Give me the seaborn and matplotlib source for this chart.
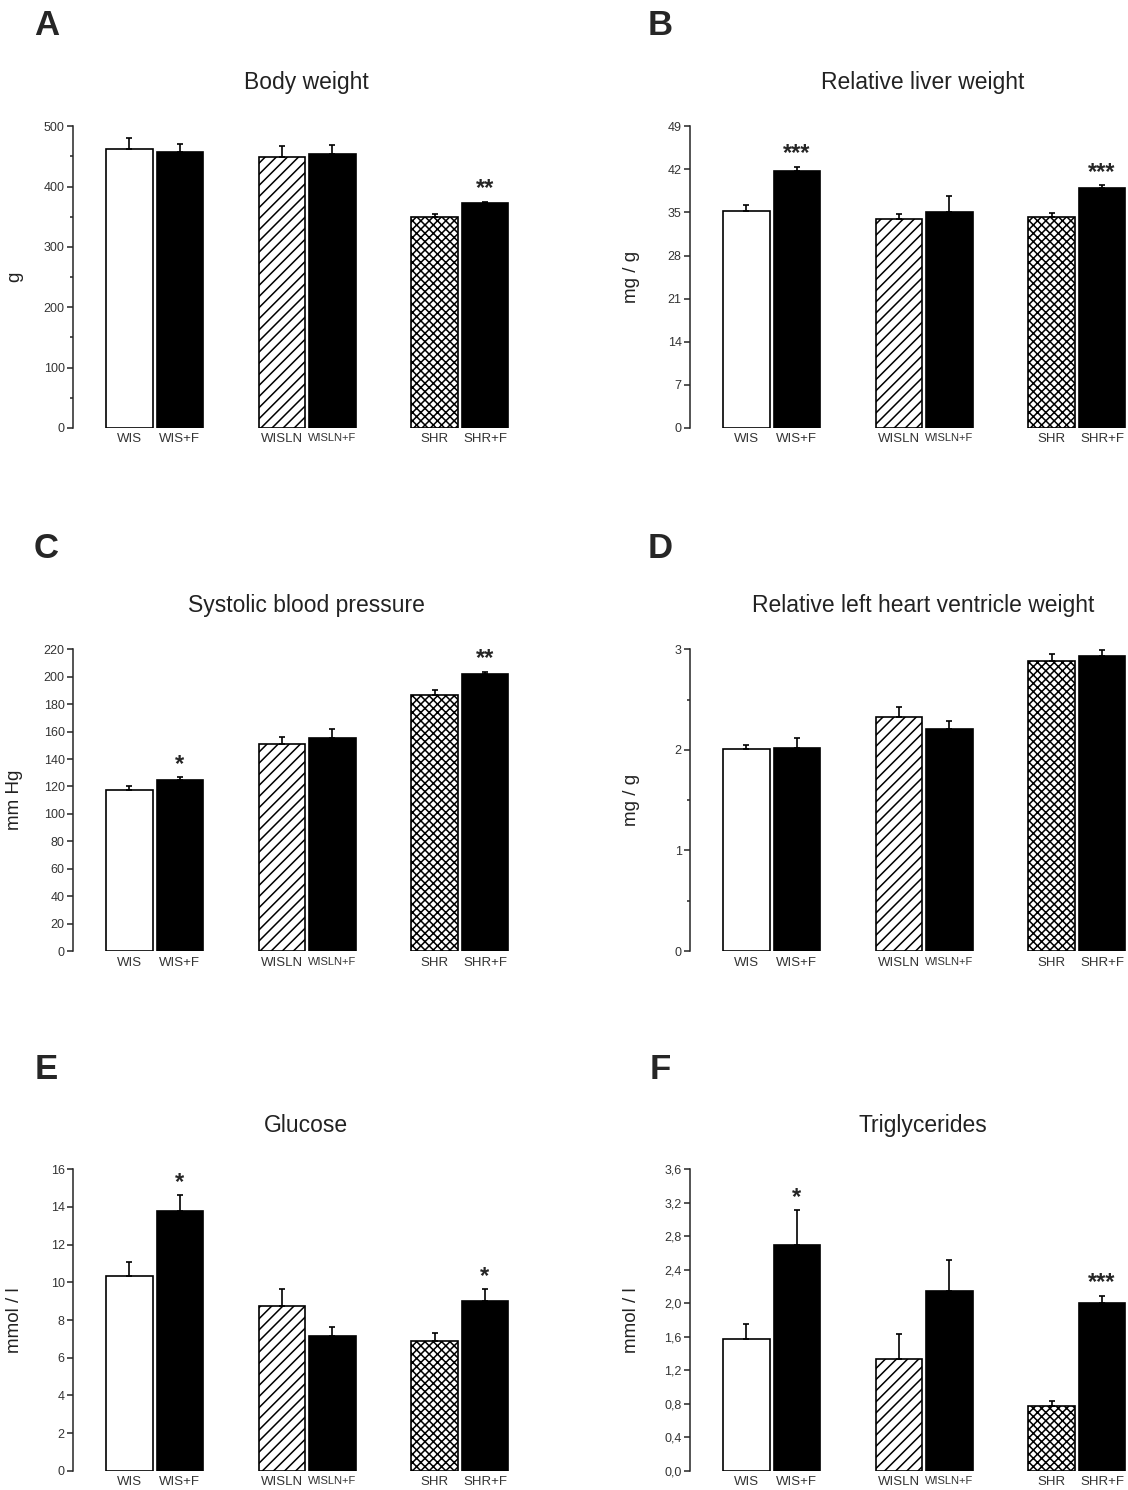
import matplotlib
matplotlib.use('Agg')
import matplotlib.pyplot as plt
import matplotlib.ticker as mticker
import seaborn as sns
import numpy as np
import pandas as pd

# groups / bars
groups = ['WIS', 'WISLN', 'SHR']
treatments = ['control', 'fructose']
bar_labels = ['WIS', 'WIS+F', 'WISLN', 'WISLN+F', 'SHR', 'SHR+F']
bar_hatches = ['', '', '///', '', 'xxxx', '']

# values in bar_labels order (mean, SEM, significance)
body_weight = [462, 457, 449, 454, 350, 373]
body_weight_sem = [19, 14, 18, 15, 4, 2]
body_weight_sig = ['', '', '', '', '', '**']

liver_weight = [35.3, 41.8, 33.9, 35.1, 34.3, 38.9]
liver_weight_sem = [0.9, 0.6, 0.9, 2.5, 0.6, 0.5]
liver_weight_sig = ['', '***', '', '', '', '***']

systolic_bp = [117.6, 124.4, 151.0, 155.6, 186.4, 202.1]
systolic_bp_sem = [2.4, 2.2, 4.9, 6.6, 3.6, 1.7]
systolic_bp_sig = ['', '*', '', '', '', '**']

heart_weight = [2.01, 2.02, 2.33, 2.21, 2.88, 2.93]
heart_weight_sem = [0.04, 0.10, 0.10, 0.08, 0.07, 0.06]
heart_weight_sig = ['', '', '', '', '', '']

glucose = [10.33, 13.81, 8.76, 7.15, 6.90, 9.02]
glucose_sem = [0.73, 0.80, 0.88, 0.48, 0.40, 0.62]
glucose_sig = ['', '*', '', '', '', '*']

triglycerides = [1.57, 2.69, 1.34, 2.15, 0.77, 2.00]
triglycerides_sem = [0.18, 0.42, 0.29, 0.37, 0.07, 0.09]
triglycerides_sig = ['', '*', '', '', '', '***']


def draw_panel(ax, means, sems, sig, title, ylabel, ymax, step, minor=None, comma=False):
    df = pd.DataFrame({'group': np.repeat(groups, 2),
                       'treatment': treatments * 3,
                       'value': means})
    sns.barplot(data=df, x='group', y='value', hue='treatment',
                order=groups, hue_order=treatments,
                palette={'control': 'white', 'fructose': 'black'},
                width=0.66, gap=0.08, saturation=1, errorbar=None,
                edgecolor='black', linewidth=1.2, legend=False, ax=ax)

    bars = sorted(ax.patches, key=lambda p: p.get_x())
    for bar, h in zip(bars, bar_hatches):
        bar.set_hatch(h)
    xs = [b.get_x() + b.get_width() / 2 for b in bars]

    ax.errorbar(xs, means, yerr=[np.zeros(len(means)), sems], fmt='none',
                ecolor='black', elinewidth=1.2, capsize=2.5, capthick=1.2,
                zorder=3)

    for x, m, s, t in zip(xs, means, sems, sig):
        if t:
            ax.annotate(t, (x, m + s), xytext=(0, 1), textcoords='offset points',
                        ha='center', va='bottom', fontsize=17, fontweight='bold')

    ax.set_xticks(xs)
    ax.set_xticklabels(bar_labels)
    ax.tick_params(axis='x', length=0, pad=4, labelsize=9.5, labelcolor='#333333')
    ax.get_xticklabels()[3].set_fontsize(8)
    ax.set_xlim(-0.535, 2.32)

    ax.set_ylim(0, ymax)
    ax.yaxis.set_major_locator(mticker.MultipleLocator(step))
    if minor:
        ax.yaxis.set_minor_locator(mticker.MultipleLocator(minor))
    if comma:
        ax.yaxis.set_major_formatter(
            mticker.FuncFormatter(lambda v, p: f'{v:.1f}'.replace('.', ',')))
    ax.tick_params(axis='y', which='major', length=4, width=1.1, pad=2,
                   labelsize=9, labelcolor='#333333')
    ax.tick_params(axis='y', which='minor', length=2.5, width=1.1)

    ax.set_xlabel('')
    ax.set_ylabel(ylabel, fontsize=13.5, color='#222222')
    ax.yaxis.set_label_coords(-0.115, 0.5)
    ax.set_title(title, x=0.535, pad=27, fontsize=16.5, color='#222222')
    sns.despine(ax=ax, bottom=True)
    ax.spines['left'].set_linewidth(1.1)


sns.set_style('ticks')
plt.rcParams['font.family'] = ['Liberation Sans', 'DejaVu Sans']
plt.rcParams['hatch.linewidth'] = 1.1

fig = plt.figure(figsize=(11.28, 14.9), dpi=100)

col_left = [0.0647, 0.6117]
col_width = 0.3862
row_bottom = [0.7128, 0.3617, 0.0128]
row_height = 0.2025

panels = [
    ('A', body_weight, body_weight_sem, body_weight_sig, 'Body weight', 'g', 500, 100, 50, False),
    ('B', liver_weight, liver_weight_sem, liver_weight_sig, 'Relative liver weight', 'mg / g', 49, 7, None, False),
    ('C', systolic_bp, systolic_bp_sem, systolic_bp_sig, 'Systolic blood pressure', 'mm Hg', 220, 20, None, False),
    ('D', heart_weight, heart_weight_sem, heart_weight_sig, 'Relative left heart ventricle weight', 'mg / g', 3, 1, 0.5, False),
    ('E', glucose, glucose_sem, glucose_sig, 'Glucose', 'mmol / l', 16, 2, None, False),
    ('F', triglycerides, triglycerides_sem, triglycerides_sig, 'Triglycerides', 'mmol / l', 3.6, 0.4, None, True),
]

letter_y = [0.9826, 0.632, 0.282]
letter_x = [0.041, 0.585]

for i, (letter, m, s, sig, title, ylabel, ymax, step, minor, comma) in enumerate(panels):
    r, c = divmod(i, 2)
    ax = fig.add_axes([col_left[c], row_bottom[r], col_width, row_height])
    draw_panel(ax, m, s, sig, title, ylabel, ymax, step, minor, comma)
    fig.text(letter_x[c], letter_y[r], letter, fontsize=25, fontweight='bold',
             ha='center', va='center')

fig.savefig('out.png', dpi=100)
